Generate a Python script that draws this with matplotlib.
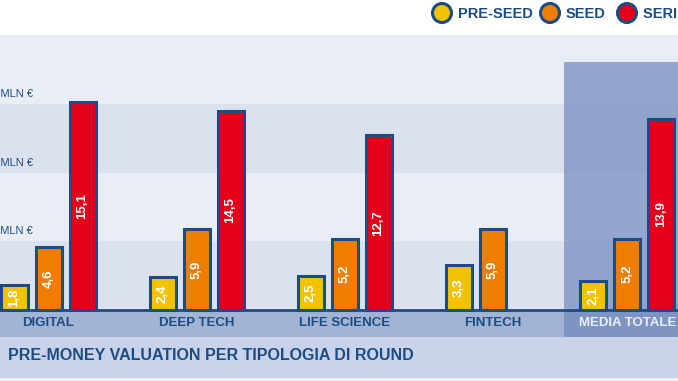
import matplotlib
matplotlib.use("Agg")
import matplotlib.pyplot as plt
from matplotlib.patches import Rectangle, Circle

### Data ###
categories = ["DIGITAL", "DEEP TECH", "LIFE SCIENCE", "FINTECH", "MEDIA TOTALE"]
pre_seed = [1.8, 2.4, 2.5, 3.3, 2.1]
seed = [4.6, 5.9, 5.2, 5.9, 5.2]
serie_a = [15.1, 14.5, 12.7, None, 13.9]
series_names = ["PRE-SEED", "SEED", "SERIE A"]
tick_values = [5, 10, 15]
tick_labels = ["5 MLN €", "10 MLN €", "15 MLN €"]
title = "PRE-MONEY VALUATION PER TIPOLOGIA DI ROUND"

### Style ###
NAVY = "#1d4c82"
COLORS = ["#f3c300", "#ee7d00", "#e2001a"]
BAND_LIGHT = "#e9edf6"
BAND_DARK = "#dbe1ef"
STRIP = "#a2b4d5"
TITLE_BG = "#c8d3ea"
FONT = ["Liberation Sans", "DejaVu Sans"]

W, H = 678, 381
fig = plt.figure(figsize=(W / 100, H / 100), dpi=100)
fig.patch.set_facecolor("white")

def px(x0, y0, x1, y1):
    # figure rect from pixel box (top-left origin)
    return [x0 / W, 1 - y1 / H, (x1 - x0) / W, (y1 - y0) / H]

# group centres in units of one group pitch (148 px); last group sits a bit closer
xpos = [0, 1, 2, 3, 3.912]
pitch = 148.0
x_left = -48.5 / pitch
x_right = x_left + W / pitch
unit_px = 275 / 20.0
strip_h = 27 / unit_px

ax = fig.add_axes(px(0, 35, W, 337))
ax.set_xlim(x_left, x_right)
ax.set_ylim(-strip_h, 20)
ax.axis("off")

# background bands
for lo in range(0, 20, 5):
    ax.axhspan(lo, lo + 5, color=BAND_DARK if (lo // 5) % 2 == 0 else BAND_LIGHT, zorder=0, lw=0)
ax.axhspan(-strip_h, 0, color=STRIP, zorder=0, lw=0)

# highlight for the average group
hl_x0 = x_left + 564 / pitch
ax.add_patch(Rectangle((hl_x0, -strip_h), x_right - hl_x0, (310 - 62) / unit_px + strip_h,
                       facecolor="#6f89bd", alpha=0.7, lw=0, zorder=1))

ax.axhline(0, color=NAVY, lw=2, zorder=4)

# bars
step = 34 / pitch
bw = 26 / pitch
for i, vals in enumerate([pre_seed, seed, serie_a]):
    for j, v in enumerate(vals):
        if v is None:
            continue
        x = xpos[j] + (i - 1) * step
        ax.bar(x, v, width=bw, color=COLORS[i], edgecolor=NAVY, linewidth=2.2, zorder=3)
        ax.text(x, v / 2, f"{v:.1f}".replace(".", ","), rotation=90, ha="center", va="center",
                color="white", fontsize=9.5, fontweight="bold", family=FONT, zorder=5)

# category labels
for j, c in enumerate(categories):
    ax.text(xpos[j], -strip_h / 2, c, ha="center", va="center",
            color="#e8eef7" if j == 4 else NAVY, fontsize=9.5, fontweight="bold",
            family=FONT, zorder=5)

# y labels (partly cut by left edge, as in the original)
ytr = ax.get_yaxis_transform()
for v, lab in zip(tick_values, tick_labels):
    ax.text(33 / W, v + 0.35, lab, transform=ytr, ha="right", va="bottom",
            color=NAVY, fontsize=8, family=FONT, zorder=5)

# title strip
fig.patches.append(Rectangle((0, 1 - 378 / H), 1, 41 / H, transform=fig.transFigure,
                             facecolor=TITLE_BG, lw=0, zorder=0))
fig.patches.append(Rectangle((0, 0), 1, 3 / H, transform=fig.transFigure,
                             facecolor="#eef1f8", lw=0, zorder=0))
fig.text(8 / W, 1 - 355 / H, title, ha="left", va="center", color=NAVY,
         fontsize=11.5, fontweight="bold", family=FONT)

# legend
lax = fig.add_axes(px(0, 0, W, 35))
lax.set_xlim(0, W)
lax.set_ylim(35, 0)
lax.axis("off")
leg_x = [442, 550, 627]
for k, name in enumerate(series_names):
    lax.add_patch(Circle((leg_x[k], 13), 9.5, facecolor=COLORS[k], edgecolor=NAVY, lw=2.2))
    lax.text(leg_x[k] + 16, 13.5, name, ha="left", va="center", color=NAVY,
             fontsize=10.5, fontweight="bold", family=FONT)

fig.savefig("out.png", dpi=100)
